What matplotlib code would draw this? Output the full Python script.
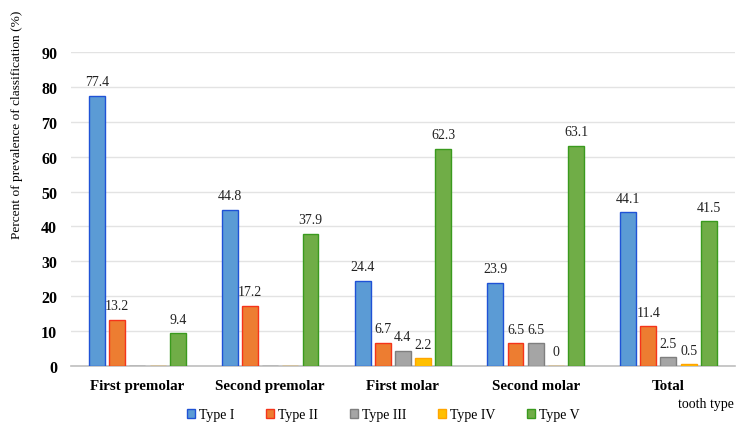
import matplotlib
matplotlib.use("Agg")
import matplotlib.pyplot as plt
import numpy as np

categories = ["First premolar", "Second premolar", "First molar", "Second molar", "Total"]
series_names = ["Type I", "Type II", "Type III", "Type IV", "Type V"]
type1 = [77.4, 44.8, 24.4, 23.9, 44.1]
type2 = [13.2, 17.2, 6.7, 6.5, 11.4]
type3 = [np.nan, np.nan, 4.4, 6.5, 2.5]
type4 = [np.nan, np.nan, 2.2, 0, 0.5]
type5 = [9.4, 37.9, 62.3, 63.1, 41.5]
series = [type1, type2, type3, type4, type5]

faces = ["#5B9BD5", "#ED7D31", "#A5A5A5", "#FFC000", "#70AD47"]
edges = ["#1F52D6", "#F5341A", "#7F7F7F", "#FFA500", "#3A9A1E"]

plt.rcParams['font.family'] = ['Liberation Serif', 'DejaVu Serif']

fig = plt.figure(figsize=(7.5, 4.35), dpi=100)
ax = fig.add_axes([0.0947, 0.1563, 0.885, 0.7217])

x = np.arange(len(categories))
slot = 0.152
width = 0.12
for i, (vals, name) in enumerate(zip(series, series_names)):
    pos = x + (i - 2) * slot
    v = np.array(vals, dtype=float)
    ax.bar(pos, np.nan_to_num(v), width, color=faces[i], edgecolor=edges[i],
           linewidth=1.0, label=name, zorder=3)
    for p, val in zip(pos, v):
        if not np.isnan(val):
            ax.text(p, val + 2.2, f"{val:g}", ha='center', va='bottom', fontsize=10, color='#222222')

ax.set_xlim(-0.5, len(categories) - 0.5)
ax.set_ylim(0, 90)
ax.set_yticks(range(0, 91, 10))
ax.yaxis.grid(True, color='#E3E3E3', linewidth=1.0, zorder=0)
ax.set_axisbelow(True)
for s in ['top', 'right', 'left']:
    ax.spines[s].set_visible(False)
ax.spines['bottom'].set_color('#BFBFBF')
ax.spines['bottom'].set_linewidth(1.2)
ax.tick_params(axis='both', length=0)
ax.set_xticks(x)
ax.set_xticklabels(categories, fontsize=10.8, fontweight='bold')
for lab in ax.get_yticklabels():
    lab.set_fontsize(11.5)
    lab.set_fontweight('bold')
ax.tick_params(axis='x', pad=9)
ax.tick_params(axis='y', pad=10)

fig.text(0.023, 0.713, "Percent of prevalence of classification (%)", rotation=90,
         ha='center', va='center', fontsize=9.6)
fig.text(0.978, 0.071, "tooth type", ha='right', va='center', fontsize=10)

leg = fig.legend(loc='center', bbox_to_anchor=(0.511, 0.044), ncol=5, frameon=False,
                 fontsize=10, handlelength=0.6, handleheight=0.6, handletextpad=0.25,
                 columnspacing=2.3)

fig.savefig("out.png", dpi=100)
